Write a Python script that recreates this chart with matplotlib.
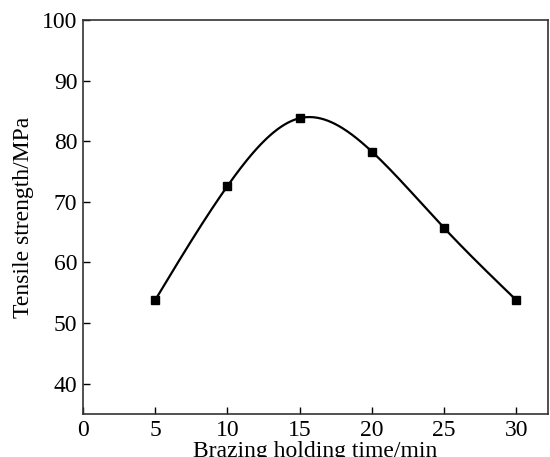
import matplotlib
matplotlib.use("Agg")
import matplotlib.pyplot as plt
import numpy as np

plt.rcParams['font.family'] = ['Liberation Serif', 'DejaVu Serif']

# brazing holding time (min) and tensile strength (MPa)
hold_time = [5, 10, 15, 20, 25, 30]
strength = [53.8, 72.6, 83.8, 78.3, 65.7, 53.8]


def natural_spline(x, y, n=300):
    # natural cubic spline through the measured points
    x = np.asarray(x, float)
    y = np.asarray(y, float)
    k = len(x)
    h = np.diff(x)
    A = np.zeros((k, k))
    b = np.zeros(k)
    A[0, 0] = A[-1, -1] = 1
    for i in range(1, k - 1):
        A[i, i - 1] = h[i - 1]
        A[i, i] = 2 * (h[i - 1] + h[i])
        A[i, i + 1] = h[i]
        b[i] = 6 * ((y[i + 1] - y[i]) / h[i] - (y[i] - y[i - 1]) / h[i - 1])
    M = np.linalg.solve(A, b)
    xs = np.linspace(x[0], x[-1], n)
    idx = np.clip(np.searchsorted(x, xs) - 1, 0, k - 2)
    x0, x1 = x[idx], x[idx + 1]
    hh = x1 - x0
    ys = (M[idx] * (x1 - xs) ** 3 / (6 * hh) + M[idx + 1] * (xs - x0) ** 3 / (6 * hh)
          + (y[idx] / hh - M[idx] * hh / 6) * (x1 - xs)
          + (y[idx + 1] / hh - M[idx + 1] * hh / 6) * (xs - x0))
    return xs, ys


fig = plt.figure(figsize=(5.5, 4.57), dpi=100)
ax = fig.add_axes([83 / 550, 1 - 414 / 457, 465 / 550, 394 / 457])

xs, ys = natural_spline(hold_time, strength)
ax.plot(xs, ys, color='black', lw=1.6)
ax.plot(hold_time, strength, 's', color='black', ms=6)

ax.set_xlim(0, 32.2)
ax.set_ylim(35, 100)
ax.set_xticks([0, 5, 10, 15, 20, 25, 30])
ax.set_yticks([40, 50, 60, 70, 80, 90, 100])
ax.tick_params(direction='in', length=5, width=1, labelsize=17, pad=4, colors='black')
for s in ax.spines.values():
    s.set_linewidth(1.2)
    s.set_color('#333333')

ax.set_xlabel('Brazing holding time/min', fontsize=17, labelpad=0)
ax.set_ylabel('Tensile strength/MPa', fontsize=17, labelpad=6)

plt.savefig('out.png', dpi=100)
